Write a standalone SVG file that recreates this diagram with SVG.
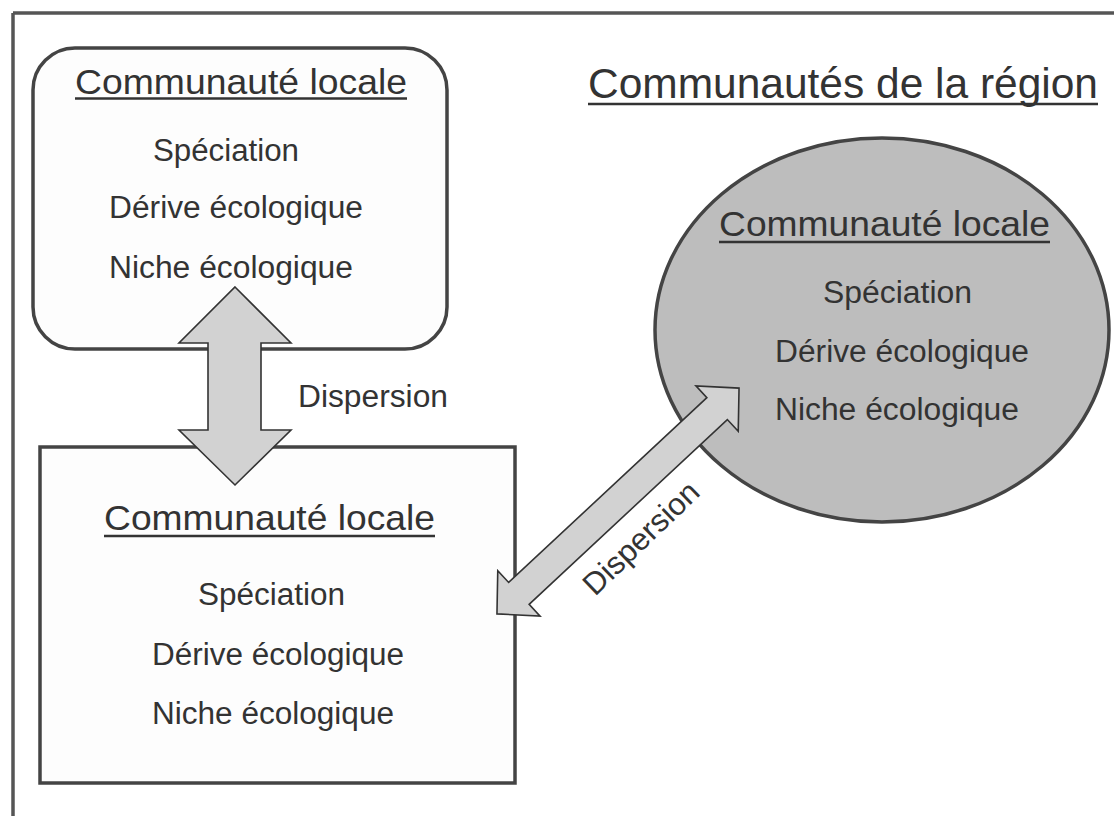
<svg xmlns="http://www.w3.org/2000/svg" width="1114" height="816" viewBox="0 0 1114 816">
  <style>
    .t { font-family: "Liberation Sans", Arial, sans-serif; fill: #333; }
    .body { font-size: 31px; }
    .ttl { font-size: 35px; }
    .big { font-size: 43px; }
    .ul { stroke: #333; stroke-width: 2.5; }
    .box { fill: #fdfdfd; stroke: #444; stroke-width: 3.5; }
    .arrow { fill: #d2d2d2; stroke: #333; stroke-width: 1.6; stroke-linejoin: miter; }
  </style>
  <rect width="1114" height="816" fill="#ffffff"/>
  <g id="frame">
    <line x1="13" y1="13" x2="1114" y2="13" stroke="#555" stroke-width="3.5"/>
    <line x1="13" y1="13" x2="13" y2="816" stroke="#555" stroke-width="3.5"/>
  </g>
  <g id="region-title">
    <text class="t big" x="588" y="98" textLength="510" lengthAdjust="spacingAndGlyphs">Communautés de la région</text>
    <line class="ul" x1="588" y1="104" x2="1098" y2="104"/>
  </g>
  <g id="node-top-left">
    <rect class="box" x="33" y="48" width="414" height="301" rx="42" ry="42"/>
    <text class="t ttl" x="75" y="94" textLength="332" lengthAdjust="spacingAndGlyphs">Communauté locale</text>
    <line class="ul" x1="75" y1="98.5" x2="407" y2="98.5"/>
    <text class="t body" x="153" y="161" textLength="146" lengthAdjust="spacingAndGlyphs">Spéciation</text>
    <text class="t body" x="109" y="218" textLength="254" lengthAdjust="spacingAndGlyphs">Dérive écologique</text>
    <text class="t body" x="109" y="278" textLength="244" lengthAdjust="spacingAndGlyphs">Niche écologique</text>
  </g>
  <g id="node-bottom">
    <rect class="box" x="40" y="447" width="475" height="336"/>
    <text class="t ttl" x="104" y="530" textLength="331" lengthAdjust="spacingAndGlyphs">Communauté locale</text>
    <line class="ul" x1="104" y1="536" x2="435" y2="536"/>
    <text class="t body" x="198" y="605" textLength="147" lengthAdjust="spacingAndGlyphs">Spéciation</text>
    <text class="t body" x="152" y="665" textLength="252" lengthAdjust="spacingAndGlyphs">Dérive écologique</text>
    <text class="t body" x="152" y="724" textLength="242" lengthAdjust="spacingAndGlyphs">Niche écologique</text>
  </g>
  <g id="node-ellipse">
    <ellipse cx="882" cy="330" rx="227" ry="192" fill="#bdbdbd" stroke="#444" stroke-width="3.5"/>
    <text class="t ttl" x="719" y="236" textLength="331" lengthAdjust="spacingAndGlyphs">Communauté locale</text>
    <line class="ul" x1="719" y1="242" x2="1050" y2="242"/>
    <text class="t body" x="823" y="303" textLength="149" lengthAdjust="spacingAndGlyphs">Spéciation</text>
    <text class="t body" x="775" y="362" textLength="254" lengthAdjust="spacingAndGlyphs">Dérive écologique</text>
    <text class="t body" x="775" y="420" textLength="244" lengthAdjust="spacingAndGlyphs">Niche écologique</text>
  </g>
  <g id="connectors">
    <polygon class="arrow" points="235,287 291,343 261,343 261,430 291,430 235,485 179,430 208,430 208,343 179,343"/>
    <text class="t body" x="298" y="407" textLength="150" lengthAdjust="spacingAndGlyphs">Dispersion</text>
    <g transform="translate(618,501) rotate(-43)">
      <polygon class="arrow" points="-165.5,0 -135.5,-31 -135.5,-15 135.5,-15 135.5,-31 165.5,0 135.5,31 135.5,15 -135.5,15 -135.5,31"/>
    </g>
    <text class="t body" transform="translate(595,597) rotate(-44)" x="0" y="0" textLength="148" lengthAdjust="spacingAndGlyphs">Dispersion</text>
  </g>
</svg>
